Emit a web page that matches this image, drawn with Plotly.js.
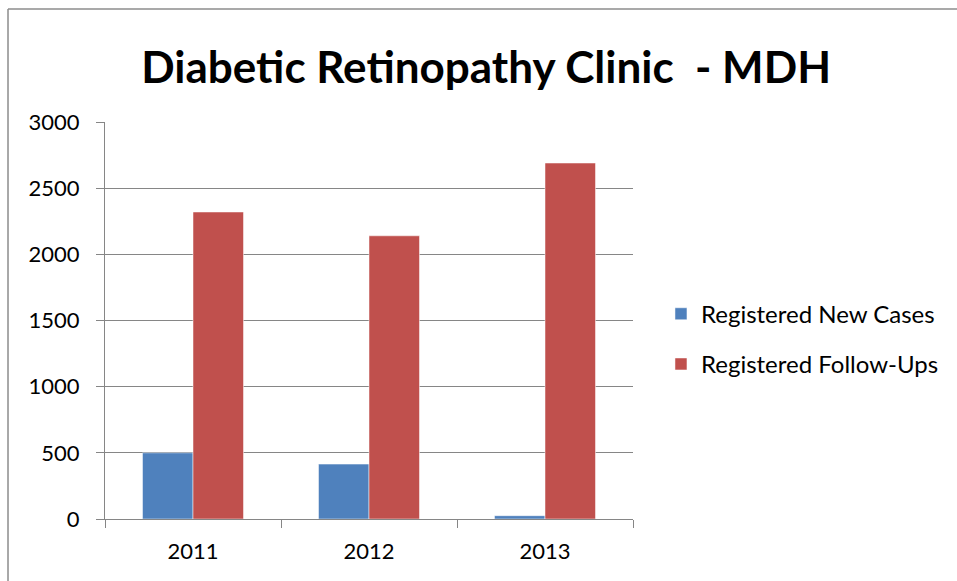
<!DOCTYPE html>
<html>
<head>
<meta charset="utf-8">
<script src="https://cdn.plot.ly/plotly-3.0.1.min.js"></script>
<style>
  body { margin: 0; padding: 0; background: #fff; }
  #chart { width: 957px; height: 581px; }
</style>
</head>
<body>
<div id="chart"></div>
<script>
var years = ["2011", "2012", "2013"];
var newCases = [500, 415, 25];
var followUps = [2320, 2140, 2690];

var trace1 = {
  x: years,
  y: newCases,
  type: "bar",
  name: "Registered New Cases",
  legendgroup: "a",
  marker: { color: "#4F81BD", line: { color: "#ffffff", width: 0.5 } },
  hoverinfo: "y"
};

var trace2 = {
  x: years,
  y: followUps,
  type: "bar",
  name: "Registered Follow-Ups",
  legendgroup: "b",
  marker: { color: "#C0504D", line: { color: "#ffffff", width: 0.5 } },
  hoverinfo: "y"
};

var gray = "#868686";

var layout = {
  width: 957,
  height: 581,
  margin: { l: 105, r: 324, t: 122, b: 62 },
  paper_bgcolor: "#ffffff",
  plot_bgcolor: "#ffffff",
  font: { family: "Lato, 'Liberation Sans', sans-serif", color: "#000000", size: 22 },
  barmode: "group",
  bargap: 0.426,
  bargroupgap: 0,
  title: {
    text: "<b>Diabetic Retinopathy Clinic  - MDH</b>",
    font: { family: "Lato, 'Liberation Sans', sans-serif", size: 44, color: "#000000" },
    x: 0.508,
    xanchor: "center",
    y: 0.884,
    yanchor: "middle"
  },
  xaxis: {
    type: "category",
    showline: true,
    linecolor: gray,
    linewidth: 1,
    ticks: "outside",
    tickson: "boundaries",
    ticklen: 8,
    tickcolor: gray,
    showgrid: false,
    ticklabelstandoff: 13,
    tickfont: { size: 22 }
  },
  yaxis: {
    range: [0, 3000],
    dtick: 500,
    showline: true,
    linecolor: gray,
    linewidth: 1,
    ticks: "outside",
    ticklen: 8,
    tickcolor: gray,
    showgrid: true,
    gridcolor: gray,
    gridwidth: 1,
    zeroline: false,
    ticklabelstandoff: 12,
    tickfont: { size: 22 }
  },
  showlegend: true,
  legend: {
    x: 1.053,
    xanchor: "left",
    y: 0.453,
    yanchor: "middle",
    traceorder: "grouped",
    tracegroupgap: 16,
    font: { size: 24 },
    itemwidth: 30,
    bgcolor: "rgba(0,0,0,0)"
  },
  shapes: [
    { type: "line", xref: "paper", yref: "paper", x0: -0.1837, x1: -0.1837, y0: -0.2, y1: 1.2846,
      line: { color: "#8c8c8c", width: 1.5 } },
    { type: "line", xref: "paper", yref: "paper", x0: -0.1837, x1: 1.65, y0: 1.2846, y1: 1.2846,
      line: { color: "#8c8c8c", width: 1.5 } }
  ]
};

Plotly.newPlot("chart", [trace1, trace2], layout, { displayModeBar: false, staticPlot: true });
</script>
</body>
</html>
